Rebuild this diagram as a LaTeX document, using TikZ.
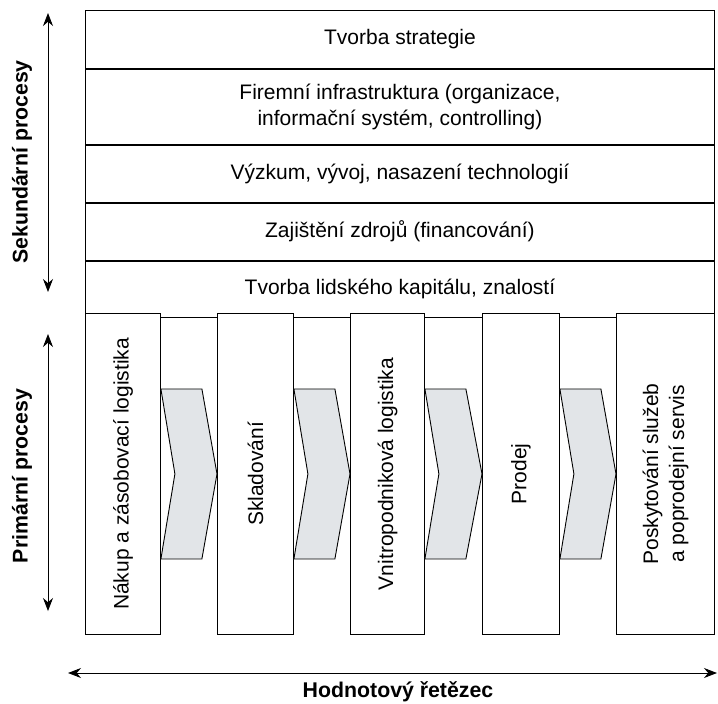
\documentclass[tikz,border=0pt]{standalone}
\usepackage{fontspec}
\setmainfont{Liberation Sans}
\usetikzlibrary{arrows.meta,calc}
\definecolor{chevfill}{RGB}{226,229,232}
\tikzset{
  row/.style={draw, anchor=north west, inner sep=0pt, minimum width=629pt},
  procbox/.style={draw, fill=white, anchor=north west, inner sep=0pt, minimum height=321pt},
  chevron/.style={draw, fill=chevfill, line join=miter},
  proctext/.style={rotate=90, align=center, inner sep=0pt},
  sidelabel/.style={font=\fontsize{21.3}{26}\selectfont\bfseries},
}
\begin{document}
\begin{tikzpicture}[x=1pt, y=-1pt, >={Stealth[length=13pt,width=10pt]},
    line width=0.9pt, font=\fontsize{21}{26}\selectfont]
  \useasboundingbox (0,0) rectangle (718,704);
  \node[row, minimum height=58pt] (strategie) at (85,10) {Tvorba strategie};
  \node[row, minimum height=75pt, align=center] (infra) at (strategie.south west)
    {Firemní infrastruktura (organizace,\\informační systém, controlling)};
  \node[row, minimum height=57pt] (vyzkum) at (infra.south west) {Výzkum, vývoj, nasazení technologií};
  \node[row, minimum height=57pt] (zdroje) at (vyzkum.south west) {Zajištění zdrojů (financování)};
  \node[row, minimum height=56pt] (kapital) at (zdroje.south west) {Tvorba lidského kapitálu, znalostí};
  \node[procbox, minimum width=75pt] (nakup) at (85,313) {};
  \node[procbox, minimum width=76pt] (sklad) at (217,313) {};
  \node[procbox, minimum width=74pt] (vnitro) at (350,313) {};
  \node[procbox, minimum width=77pt] (prodej) at (482,313) {};
  \node[procbox, minimum width=98pt] (servis) at (616,313) {};
  \node[proctext] (nakupT) at (nakup) {Nákup a zásobovací logistika};
  \node[proctext] (skladT) at (sklad) {Skladování};
  \node[proctext] (vnitroT) at (vnitro) {Vnitropodniková logistika};
  \node[proctext] (prodejT) at (prodej) {Prodej};
  \node[proctext] (servisT) at (servis) {Poskytování služeb\\a poprodejní servis};
  \foreach \a/\b in {nakup/sklad, sklad/vnitro, vnitro/prodej, prodej/servis}
    \draw[chevron] ($(\a.east)+(0,-85)$) -- ++(41,0) -- (\b.west)
      -- ($(\a.east)+(41,85)$) -- ($(\a.east)+(0,85)$) -- ($(\a.east)+(14,0)$) -- cycle;
  \coordinate (sekTop) at (48,13);
  \coordinate (sekBot) at (48,292);
  \coordinate (primTop) at (48,334);
  \coordinate (primBot) at (48,611);
  \coordinate (chainL) at (68,673);
  \coordinate (chainR) at (717,673);
  \draw[<->] (sekTop) -- (sekBot);
  \draw[<->] (primTop) -- (primBot);
  \draw[<->] (chainL) -- (chainR);
  \node[sidelabel, rotate=90] (sek) at (22,162) {Sekundární procesy};
  \node[sidelabel, rotate=90] (prim) at (22,476) {Primární procesy};
  \node[sidelabel] (hodn) at (398,692) {Hodnotový řetězec};
\end{tikzpicture}
\end{document}
